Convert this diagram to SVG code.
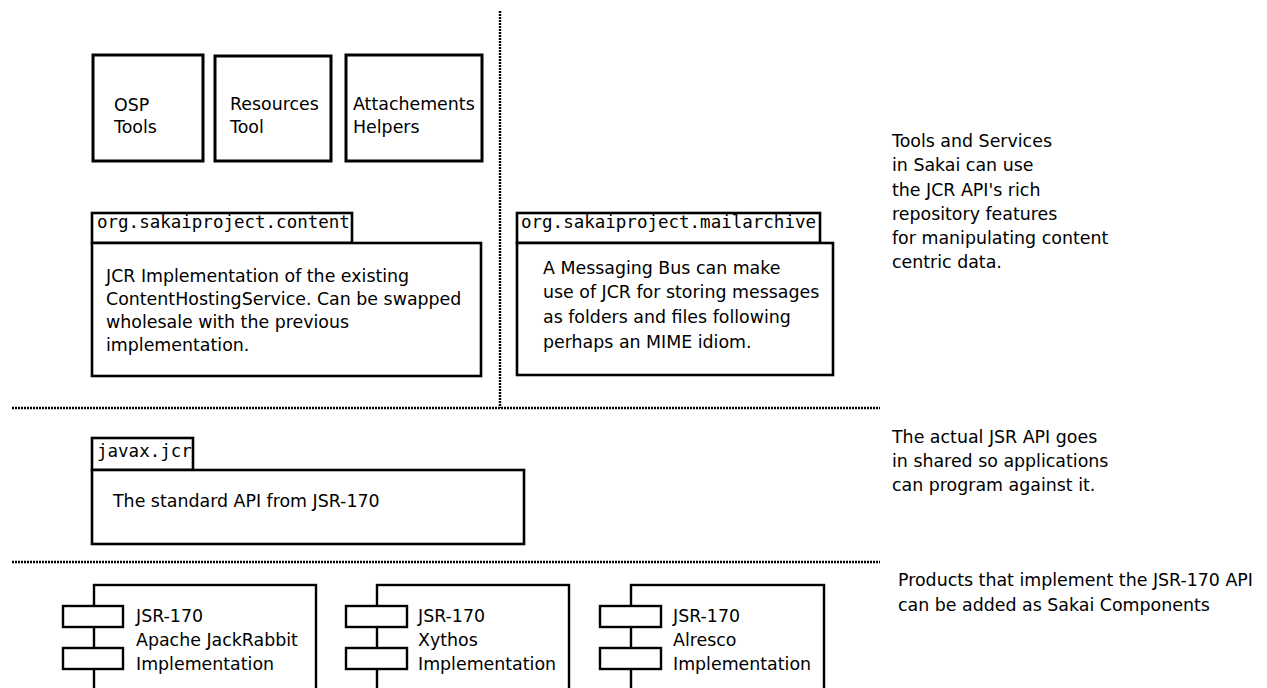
<svg xmlns="http://www.w3.org/2000/svg" width="1267" height="688" viewBox="0 0 1267 688">
<style>
.t{font-family:"DejaVu Sans","Verdana",sans-serif;font-size:17.4px;fill:#000}
.m{font-family:"DejaVu Sans Mono","Liberation Mono",monospace;font-size:17.5px;fill:#000}
.box{fill:#fff;stroke:#000;stroke-width:3}
.pk{fill:#fff;stroke:#000;stroke-width:2.6}
.cp{fill:#fff;stroke:#000;stroke-width:2.4}
.dot{stroke:#000;stroke-width:2.4;stroke-dasharray:2 1;fill:none}
</style>
<rect width="1267" height="688" fill="#fff"/>
<g id="separators">
<line class="dot" x1="500" y1="11" x2="500" y2="408"/>
<line class="dot" x1="12" y1="408" x2="880" y2="408"/>
<line class="dot" x1="12" y1="562" x2="880" y2="562"/>
</g>
<g id="osp-tools">
<rect class="box" x="93" y="55" width="110" height="106"/>
<text class="t" x="114" y="111">OSP</text>
<text class="t" x="114" y="133">Tools</text>
</g>
<g id="resources-tool">
<rect class="box" x="215" y="56" width="116" height="105"/>
<text class="t" x="230" y="110">Resources</text>
<text class="t" x="230" y="133">Tool</text>
</g>
<g id="attachments-helpers">
<rect class="box" x="346" y="55" width="136" height="106"/>
<text class="t" x="353" y="110">Attachements</text>
<text class="t" x="353" y="133">Helpers</text>
</g>
<g id="pkg-content">
<rect class="pk" x="92" y="213" width="260" height="30"/>
<rect class="pk" x="92" y="243" width="389" height="133"/>
<text class="m" x="97" y="228">org.sakaiproject.content</text>
<text class="t" x="106" y="282">JCR Implementation of the existing</text>
<text class="t" x="106" y="305">ContentHostingService. Can be swapped</text>
<text class="t" x="106" y="328">wholesale with the previous</text>
<text class="t" x="106" y="351">implementation.</text>
</g>
<g id="pkg-mailarchive">
<rect class="pk" x="517" y="213" width="303" height="30"/>
<rect class="pk" x="517" y="243" width="316" height="132"/>
<text class="m" x="521" y="228">org.sakaiproject.mailarchive</text>
<text class="t" x="543" y="274">A Messaging Bus can make</text>
<text class="t" x="543" y="298">use of JCR for storing messages</text>
<text class="t" x="543" y="323">as folders and files following</text>
<text class="t" x="543" y="348">perhaps an MIME idiom.</text>
</g>
<g id="note-tools">
<text class="t" x="892" y="147">Tools and Services</text>
<text class="t" x="892" y="171">in Sakai can use</text>
<text class="t" x="892" y="196">the JCR API's rich</text>
<text class="t" x="892" y="220">repository features</text>
<text class="t" x="892" y="244">for manipulating content</text>
<text class="t" x="892" y="268">centric data.</text>
</g>
<g id="pkg-javax-jcr">
<rect class="pk" x="92" y="438" width="101" height="32"/>
<rect class="pk" x="92" y="470" width="432" height="74"/>
<text class="m" x="97" y="457">javax.jcr</text>
<text class="t" x="113" y="507">The standard API from JSR-170</text>
</g>
<g id="note-api">
<text class="t" x="892" y="443">The actual JSR API goes</text>
<text class="t" x="892" y="467">in shared so applications</text>
<text class="t" x="892" y="491">can program against it.</text>
</g>
<g id="comp-jackrabbit">
<rect class="cp" x="94" y="585" width="222" height="120"/>
<rect class="cp" x="63" y="606" width="60" height="21"/>
<rect class="cp" x="63" y="648" width="60" height="21"/>
<text class="t" x="136" y="622">JSR-170</text>
<text class="t" x="136" y="646">Apache JackRabbit</text>
<text class="t" x="136" y="670">Implementation</text>
</g>
<g id="comp-xythos">
<rect class="cp" x="377" y="585" width="192" height="120"/>
<rect class="cp" x="346" y="606" width="61" height="21"/>
<rect class="cp" x="346" y="648" width="61" height="21"/>
<text class="t" x="418" y="622">JSR-170</text>
<text class="t" x="418" y="646">Xythos</text>
<text class="t" x="418" y="670">Implementation</text>
</g>
<g id="comp-alfresco">
<rect class="cp" x="631" y="585" width="193" height="120"/>
<rect class="cp" x="600" y="606" width="61" height="21"/>
<rect class="cp" x="600" y="648" width="61" height="21"/>
<text class="t" x="673" y="622">JSR-170</text>
<text class="t" x="673" y="646">Alresco</text>
<text class="t" x="673" y="670">Implementation</text>
</g>
<g id="note-products">
<text class="t" x="898" y="586">Products that implement the JSR-170 API</text>
<text class="t" x="898" y="611">can be added as Sakai Components</text>
</g>
</svg>
